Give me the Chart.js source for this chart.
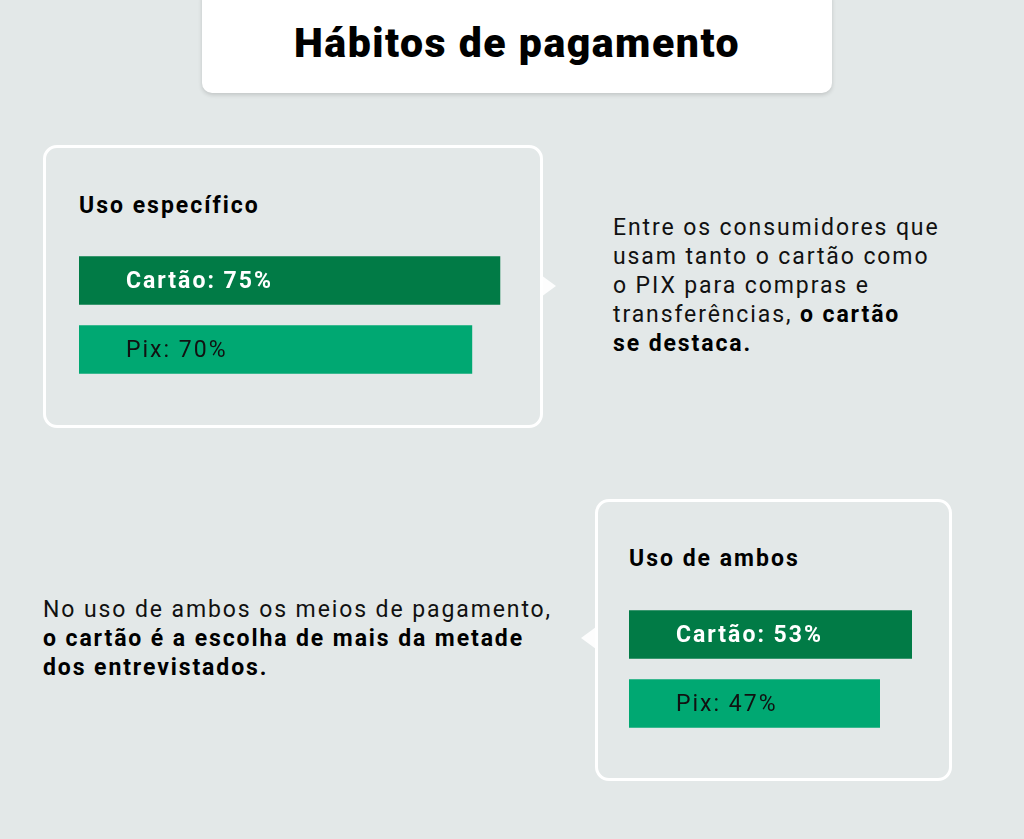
<!DOCTYPE html>
<html lang="pt-BR">
<head>
    <meta charset="UTF-8">
    <title>Hábitos de pagamento</title>
    <script src="https://cdn.jsdelivr.net/npm/chart.js"></script>
    <style>
        html, body {
            margin: 0;
            padding: 0;
            width: 1024px;
            height: 839px;
            overflow: hidden;
            background: #e3e8e8;
            font-family: 'Roboto', 'DejaVu Sans', sans-serif;
            color: #111;
        }
        .title-box {
            position: absolute;
            left: 202px; top: -12px;
            width: 630px; height: 105px;
            background: #fff;
            border-radius: 10px;
            box-shadow: 0 2px 4px rgba(0,0,0,0.15);
        }
        .title-box h1 {
            margin: 0;
            position: absolute;
            left: 0; right: 0; top: 31px;
            text-align: center;
            font-size: 41px;
            font-weight: 900;
            letter-spacing: 1.5px;
            color: #000;
        }
        .card {
            position: absolute;
            box-sizing: border-box;
            border: 3px solid #fff;
            border-radius: 14px;
        }
        .card h2 {
            margin: 0;
            position: absolute;
            font-size: 23px;
            font-weight: 700;
            letter-spacing: 2px;
            color: #000;
        }
        .arrow {
            position: absolute;
            width: 0; height: 0;
            border-top: 11px solid transparent;
            border-bottom: 11px solid transparent;
        }
        .note {
            position: absolute;
            font-size: 23px;
            line-height: 29px;
            letter-spacing: 1.9px;
            color: #111;
            white-space: nowrap;
        }
        .note b { color: #000; }
        .chart-wrap { position: absolute; }
    </style>
</head>
<body>
    <div class="title-box"><h1>Hábitos de pagamento</h1></div>

    <div class="card" style="left:43px; top:145px; width:500px; height:283px;">
        <h2 style="left:33px; top:44px;">Uso específico</h2>
    </div>
    <div class="arrow" style="left:541px; top:275px; border-left:15px solid rgba(255,255,255,0.9);"></div>
    <div class="chart-wrap" style="left:79px; top:246px; width:449px; height:138px;">
        <canvas id="chartEspecifico"></canvas>
    </div>
    <div class="note" style="left:613px; top:213px;">
        Entre os consumidores que<br>
        usam tanto o cartão como<br>
        o PIX para compras e<br>
        transferências, <b>o cartão<br>
        se destaca.</b>
    </div>

    <div class="card" style="left:595px; top:499px; width:357px; height:282px;">
        <h2 style="left:31px; top:43px;">Uso de ambos</h2>
    </div>
    <div class="arrow" style="left:581px; top:627px; border-right:15px solid rgba(255,255,255,0.9);"></div>
    <div class="chart-wrap" style="left:629px; top:600px; width:320px; height:138px;">
        <canvas id="chartAmbos"></canvas>
    </div>
    <div class="note" style="left:43px; top:595px;">
        No uso de ambos os meios de pagamento,<br>
        <b>o cartão é a escolha de mais da metade<br>
        dos entrevistados.</b>
    </div>

    <script>
    // dados
    const categorias = ['Cartão', 'Pix'];
    const usoEspecifico = [75, 70];
    const usoAmbos = [53, 47];
    const cores = ['#017b46', '#00a872'];
    const coresTexto = ['#ffffff', '#111111'];
    const pesosTexto = ['bold', 'normal'];

    // escreve "Cartão: 75%" dentro de cada barra
    const rotulos = {
      id: 'rotulos',
      afterDatasetsDraw(chart) {
        const ctx = chart.ctx;
        const meta = chart.getDatasetMeta(0);
        const valores = chart.data.datasets[0].data;
        meta.data.forEach((bar, i) => {
          ctx.save();
          ctx.font = pesosTexto[i] + ' 23px Roboto, sans-serif';
          ctx.letterSpacing = '2px';
          ctx.fillStyle = coresTexto[i];
          ctx.textBaseline = 'middle';
          ctx.textAlign = 'left';
          ctx.fillText(chart.data.labels[i] + ': ' + valores[i] + '%', bar.base + 47, bar.y + 2);
          ctx.restore();
        });
      }
    };

    function barras(id, valores, maximo) {
      return new Chart(document.getElementById(id), {
        type: 'bar',
        data: {
          labels: categorias,
          datasets: [{
            data: valores,
            backgroundColor: cores,
            borderWidth: 0,
            barThickness: 48,
            categoryPercentage: 1
          }]
        },
        options: {
          indexAxis: 'y',
          responsive: true,
          maintainAspectRatio: false,
          animation: false,
          layout: { padding: 0 },
          plugins: { legend: { display: false }, tooltip: { enabled: false } },
          scales: {
            x: { display: false, min: 0, max: maximo },
            y: { display: false }
          }
        },
        plugins: [rotulos]
      });
    }

    barras('chartEspecifico', usoEspecifico, 80);
    barras('chartAmbos', usoAmbos, 60);
  </script>
</body>
</html>
